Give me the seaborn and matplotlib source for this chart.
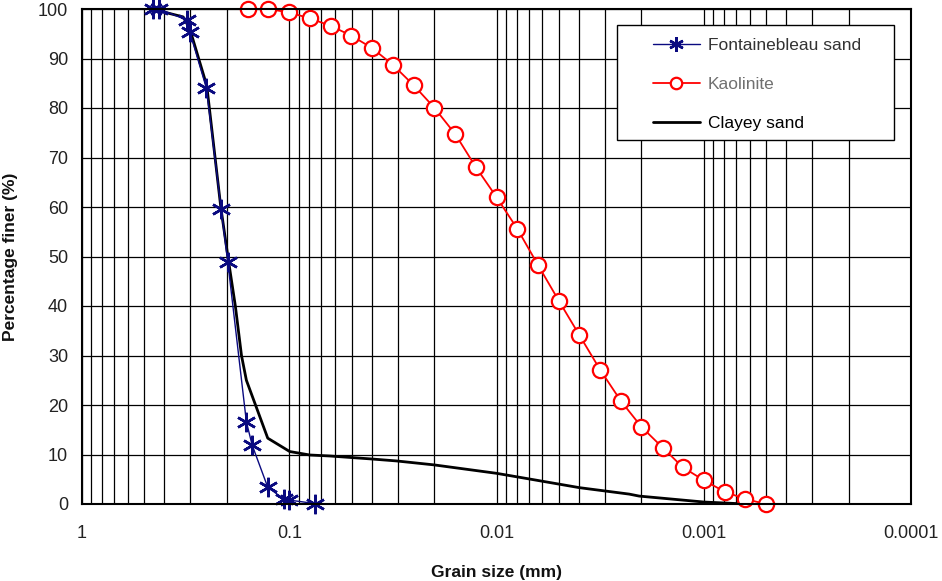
import matplotlib
matplotlib.use("Agg")
import matplotlib.pyplot as plt
import seaborn as sns
import pandas as pd
import numpy as np
from matplotlib.ticker import LogLocator, FixedLocator, MultipleLocator, NullFormatter, FixedFormatter
from matplotlib.patches import Rectangle

# ---- data (grain size in mm, percentage finer in %) ----
font_d = [0.453, 0.424, 0.313, 0.302, 0.251, 0.213, 0.198, 0.161, 0.151, 0.127, 0.106, 0.1005, 0.0754]
font_p = [100.0, 100.0, 97.8, 95.4, 84.0, 59.5, 48.9, 16.6, 11.9, 3.4, 0.95, 0.8, 0.1]

kao_d = [0.158, 0.126, 0.100, 0.0794, 0.0631, 0.0501, 0.0398, 0.0316, 0.0251, 0.0200,
         0.0158, 0.0126, 0.0100, 0.00794, 0.00631, 0.00501, 0.00398, 0.00316, 0.00251, 0.00200,
         0.00158, 0.00126, 0.00100, 0.000794, 0.000631, 0.000501]
kao_p = [100.0, 100.0, 99.3, 98.1, 96.6, 94.6, 92.1, 88.7, 84.6, 80.1,
         74.7, 68.1, 62.0, 55.6, 48.3, 41.1, 34.1, 27.1, 20.8, 15.6,
         11.4, 7.4, 4.8, 2.5, 1.0, 0.0]

clay_d = [0.46, 0.325, 0.302, 0.25, 0.214, 0.197, 0.182, 0.170, 0.161, 0.127, 0.0995,
          0.0796, 0.0638, 0.0402, 0.0304, 0.0200, 0.0100, 0.00693, 0.00398, 0.00229,
          0.00205, 0.00100, 0.000626]
clay_p = [100.0, 98.4, 96.0, 84.5, 60.0, 49.5, 40.0, 30.0, 25.0, 13.3, 10.6,
          9.9, 9.7, 9.1, 8.7, 7.9, 6.2, 5.05, 3.3, 2.0,
          1.6, 0.4, 0.0]

x_ticks = [1, 0.1, 0.01, 0.001, 0.0001]
x_tick_labels = ["1", "0.1", "0.01", "0.001", "0.0001"]
y_ticks = [0, 10, 20, 30, 40, 50, 60, 70, 80, 90, 100]

labels = ["Fontainebleau sand", "Kaolinite", "Clayey sand"]

sns.set_style("white")
plt.rcParams['font.family'] = ['Liberation Sans', 'DejaVu Sans']

fig = plt.figure(figsize=(9.42, 5.81), dpi=100)
ax = fig.add_axes([82/942, 77/581, 829/942, 495/581])

df_f = pd.DataFrame({"d": font_d, "p": font_p})
df_k = pd.DataFrame({"d": kao_d, "p": kao_p})
df_c = pd.DataFrame({"d": clay_d, "p": clay_p})

sns.lineplot(data=df_c, x="d", y="p", ax=ax, sort=False, estimator=None,
             color="black", lw=2.0, label=labels[2], zorder=4, clip_on=False)
sns.lineplot(data=df_f, x="d", y="p", ax=ax, sort=False, estimator=None,
             color="#0a0a80", lw=1.0, marker=(6, 2, 0), markersize=14,
             markeredgewidth=1.8, markeredgecolor="#0a0a80", label=labels[0],
             zorder=5, clip_on=False)
sns.lineplot(data=df_k, x="d", y="p", ax=ax, sort=False, estimator=None,
             color="#ff0000", lw=1.3, marker="o", markersize=11,
             markerfacecolor="white", markeredgecolor="#ff0000", markeredgewidth=1.6,
             label=labels[1], zorder=5, clip_on=False)

ax.set_xscale("log")
ax.set_xlim(1, 0.0001)
ax.set_ylim(0, 100)

ax.xaxis.set_major_locator(FixedLocator(x_ticks))
ax.xaxis.set_major_formatter(FixedFormatter(x_tick_labels))
ax.xaxis.set_minor_locator(LogLocator(base=10, subs=np.arange(2, 10)))
ax.xaxis.set_minor_formatter(NullFormatter())
ax.yaxis.set_major_locator(FixedLocator(y_ticks))
ax.yaxis.set_minor_locator(MultipleLocator(5))

ax.grid(True, which="major", axis="both", color="black", lw=0.9)
ax.grid(True, which="minor", axis="x", color="black", lw=0.9)
ax.set_axisbelow(True)

ax.tick_params(axis="both", which="both", direction="out", colors="black",
               labelcolor="#222222", labelsize=13, width=0.9)
ax.tick_params(axis="x", which="both", length=4, pad=11)
ax.tick_params(axis="y", which="both", length=4, pad=6)

for s in ax.spines.values():
    s.set_color("black")
    s.set_linewidth(1.5)
    s.set_zorder(6)

ax.set_xlabel("Grain size (mm)", fontsize=12.5, fontweight="bold", color="#111111")
ax.set_ylabel("Percentage finer (%)", fontsize=12.5, fontweight="bold", color="#111111")
ax.xaxis.set_label_coords(0.5, -0.123)
ax.yaxis.set_label_coords(-0.077, 0.5)

# legend box
ax.add_patch(Rectangle((0.645, 0.735), 0.3345, 0.2327, transform=ax.transAxes,
                       facecolor="white", edgecolor="black", lw=1.0, zorder=7,
                       clip_on=False))
h, l = ax.get_legend_handles_labels()
order = [l.index(x) for x in labels]
leg = ax.legend([h[i] for i in order], [l[i] for i in order], loc="upper left",
                bbox_to_anchor=(0.6888, 0.941), frameon=False, borderpad=0,
                borderaxespad=0, fontsize=12.5, handlelength=2.7, handletextpad=0.46,
                labelspacing=1.36, markerscale=0.75)
leg.set_zorder(8)
text_colors = ["#333333", "#707070", "#000000"]
for t, c in zip(leg.get_texts(), text_colors):
    t.set_color(c)

fig.savefig("out.png", dpi=100)
